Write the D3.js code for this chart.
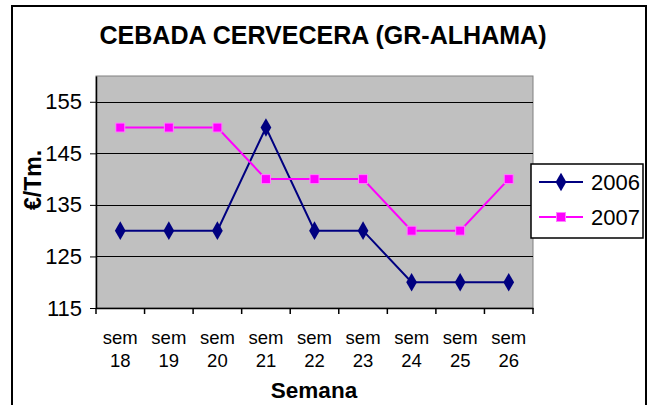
<!DOCTYPE html>
<html>
<head>
<meta charset="utf-8">
<script src="https://cdn.jsdelivr.net/npm/d3@7"></script>
<style>
    body { margin: 0; background: #fff; }
    svg { display: block; font-family: Arial, "Liberation Sans", sans-serif; }
</style>
</head>
<body>
<div id="chart"></div>
<script>
const weeks = ["18", "19", "20", "21", "22", "23", "24", "25", "26"];
const values2006 = [130, 130, 130, 150, 130, 130, 120, 120, 120];
const values2007 = [150, 150, 150, 140, 140, 140, 130, 130, 140];
const yTicks = [115, 125, 135, 145, 155];
const seriesNames = ["2006", "2007"];
const seriesColors = ["#000080", "#FF00FF"];

const width = 654, height = 405;
const plot = { left: 96, right: 533, top: 76, bottom: 308 };

const svg = d3.select("#chart")
    .append("svg")
    .attr("width", width)
    .attr("height", height);

// outer chart frame
svg.append("rect")
    .attr("x", 12).attr("y", 6)
    .attr("width", 634).attr("height", 420)
    .attr("fill", "#fff")
    .attr("stroke", "#000")
    .attr("stroke-width", 2);

const xScale = d3.scaleBand()
    .domain(weeks)
    .range([plot.left, plot.right])
    .padding(0);

const yScale = d3.scaleLinear()
    .domain([115, 160])
    .range([plot.bottom, plot.top]);

// plot area
svg.append("rect")
    .attr("x", plot.left).attr("y", plot.top)
    .attr("width", plot.right - plot.left)
    .attr("height", plot.bottom - plot.top)
    .attr("fill", "#C0C0C0")
    .attr("stroke", "#808080")
    .attr("stroke-width", 1);

// gridlines
svg.selectAll(".grid")
    .data(yTicks)
    .enter().append("line")
    .attr("class", "grid")
    .attr("x1", plot.left).attr("x2", plot.right)
    .attr("y1", d => Math.round(yScale(d)) + 0.5)
    .attr("y2", d => Math.round(yScale(d)) + 0.5)
    .attr("stroke", "#000")
    .attr("stroke-width", 1);

// y axis
const yAxis = svg.append("g")
    .attr("transform", "translate(" + plot.left + ",0)")
    .call(d3.axisLeft(yScale).tickValues(yTicks).tickSize(6).tickSizeOuter(0).tickPadding(8));
yAxis.select(".domain").attr("stroke", "#000").attr("stroke-width", 1.5);
yAxis.selectAll("text")
    .style("font-size", "22px")
    .style("font-family", "Arial, 'Liberation Sans', sans-serif")
    .attr("fill", "#000");

// x axis labels (two lines)
const xAxis = svg.append("g")
    .attr("transform", "translate(0," + plot.bottom + ")")
    .call(d3.axisBottom(xScale).tickSize(0).tickSizeOuter(0).tickFormat(""));
xAxis.select(".domain").attr("stroke", "#000").attr("stroke-width", 1.5);
xAxis.selectAll(".tick text").remove();
xAxis.selectAll(".tick").each(function(d) {
    const t = d3.select(this).append("text")
        .attr("text-anchor", "middle")
        .attr("fill", "#000")
        .style("font-size", "18.5px");
    t.append("tspan").attr("x", 0).attr("y", 36).text("sem");
    t.append("tspan").attr("x", 0).attr("y", 59).text(d);
});

// x tick marks at category boundaries
const boundaries = weeks.map(d => xScale(d)).concat([plot.right]);
svg.selectAll(".xtick")
    .data(boundaries)
    .enter().append("line")
    .attr("class", "xtick")
    .attr("x1", d => d).attr("x2", d => d)
    .attr("y1", plot.bottom).attr("y2", plot.bottom + 6)
    .attr("stroke", "#000")
    .attr("stroke-width", 1.5);

// lines + markers
const line = d3.line()
    .x((d, i) => xScale(weeks[i]) + xScale.bandwidth() / 2)
    .y(d => yScale(d));

const diamond = d3.symbol().type(d3.symbolDiamond).size(100);

[values2006, values2007].forEach(function(vals, s) {
    svg.append("path")
        .datum(vals)
        .attr("d", line)
        .attr("fill", "none")
        .attr("stroke", seriesColors[s])
        .attr("stroke-width", 2);
});

svg.selectAll(".m2006")
    .data(values2006)
    .enter().append("path")
    .attr("class", "m2006")
    .attr("transform", (d, i) => "translate(" + (xScale(weeks[i]) + xScale.bandwidth() / 2) + "," + yScale(d) + ")")
    .attr("d", diamond)
    .attr("fill", seriesColors[0]);

svg.selectAll(".m2007")
    .data(values2007)
    .enter().append("rect")
    .attr("class", "m2007")
    .attr("x", (d, i) => xScale(weeks[i]) + xScale.bandwidth() / 2 - 4.5)
    .attr("y", d => yScale(d) - 4.5)
    .attr("width", 9).attr("height", 9)
    .attr("fill", seriesColors[1])
    .attr("stroke", "#FF80FF")
    .attr("stroke-width", 1);

// title
svg.append("text")
    .attr("x", 323)
    .attr("y", 44)
    .attr("text-anchor", "middle")
    .attr("textLength", 447)
    .attr("lengthAdjust", "spacingAndGlyphs")
    .style("font-size", "26px")
    .style("font-weight", "bold")
    .text("CEBADA CERVECERA (GR-ALHAMA)");

// axis titles
svg.append("text")
    .attr("x", 314)
    .attr("y", 398)
    .attr("text-anchor", "middle")
    .style("font-size", "22.5px")
    .style("font-weight", "bold")
    .text("Semana");

svg.append("text")
    .attr("transform", "translate(41,180) rotate(-90)")
    .attr("text-anchor", "middle")
    .style("font-size", "23px")
    .style("font-weight", "bold")
    .text("€/Tm.");

// legend
const legend = svg.append("g");
legend.append("rect")
    .attr("x", 531).attr("y", 164)
    .attr("width", 112).attr("height", 74)
    .attr("fill", "#fff")
    .attr("stroke", "#000")
    .attr("stroke-width", 1.5);

const rowY = [182, 217];
seriesNames.forEach(function(name, i) {
    legend.append("line")
        .attr("x1", 539).attr("x2", 583)
        .attr("y1", rowY[i]).attr("y2", rowY[i])
        .attr("stroke", seriesColors[i])
        .attr("stroke-width", 2);
    if (i === 0) {
        legend.append("path")
            .attr("d", diamond)
            .attr("transform", "translate(561," + rowY[i] + ")")
            .attr("fill", seriesColors[i]);
    } else {
        legend.append("rect")
            .attr("x", 556.5).attr("y", rowY[i] - 4.5)
            .attr("width", 9).attr("height", 9)
            .attr("fill", seriesColors[i])
            .attr("stroke", "#FF80FF");
    }
    legend.append("text")
        .attr("x", 591)
        .attr("y", rowY[i] + 8)
        .style("font-size", "22px")
        .text(name);
});
</script>
</body>
</html>
